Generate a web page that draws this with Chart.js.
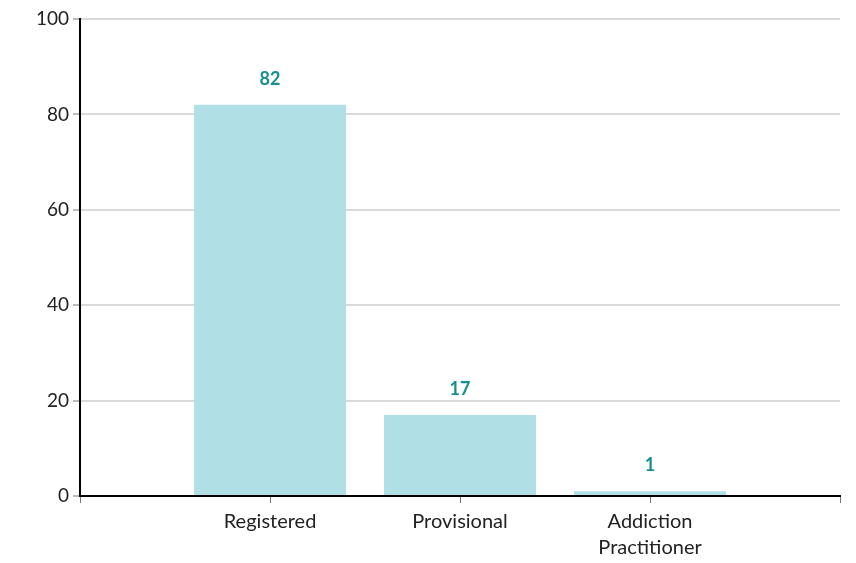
<!DOCTYPE html>
<html><head><meta charset="utf-8">
<script src="https://cdn.jsdelivr.net/npm/chart.js@4.4.0/dist/chart.umd.min.js"></script>
<style>html,body{margin:0;padding:0;background:#fff}#wrap{width:856px;height:563px}</style>
</head><body><div id="wrap"><canvas id="c"></canvas></div>
<script>
const categories = ['', 'Registered', 'Provisional', ['Addiction', 'Practitioner'], ''];
const values = [null, 82, 17, 1, null];
const yTicks = [0, 20, 40, 60, 80, 100];

const labelPlugin = {
  id: 'valueLabels',
  afterDatasetsDraw(chart) {
    const ctx = chart.ctx;
    const meta = chart.getDatasetMeta(0);
    ctx.save();
    ctx.fillStyle = '#178f8f';
    ctx.font = 'bold 18px Lato';
    ctx.textAlign = 'center';
    ctx.textBaseline = 'middle';
    meta.data.forEach((bar, i) => {
      const v = values[i];
      if (v === null || v === undefined) return;
      ctx.fillText(String(v), bar.x, bar.y - 26);
    });
    ctx.restore();
  }
};

new Chart(document.getElementById('c'), {
  type: 'bar',
  data: {
    labels: categories,
    datasets: [{
      data: values,
      backgroundColor: '#b0dfe5',
      borderWidth: 0,
      categoryPercentage: 1,
      barPercentage: 0.8
    }]
  },
  options: {
    responsive: true,
    maintainAspectRatio: false,
    animation: false,
    layout: { padding: { top: 19, right: 16, left: 32, bottom: -4 } },
    plugins: { legend: { display: false }, tooltip: { enabled: false } },
    scales: {
      x: {
        offset: false,
        grid: { display: true, offset: false, drawOnChartArea: false, tickLength: 7, tickColor: '#777', lineWidth: 1 },
        border: { color: '#000', width: 2 },
        ticks: { color: '#222', font: { family: 'Lato', size: 20, lineHeight: 1.3 }, maxRotation: 0, autoSkip: false, padding: 6 }
      },
      y: {
        min: 0, max: 100,
        afterBuildTicks(axis) { axis.ticks = yTicks.map(v => ({ value: v })); },
        grid: { color: '#d9d9d9', lineWidth: 2, tickLength: 7, tickColor: '#777', tickWidth: 1 },
        border: { color: '#000', width: 2 },
        ticks: { color: '#222', font: { family: 'Lato', size: 19 }, padding: 4 }
      }
    }
  },
  plugins: [labelPlugin]
});
</script></body></html>
